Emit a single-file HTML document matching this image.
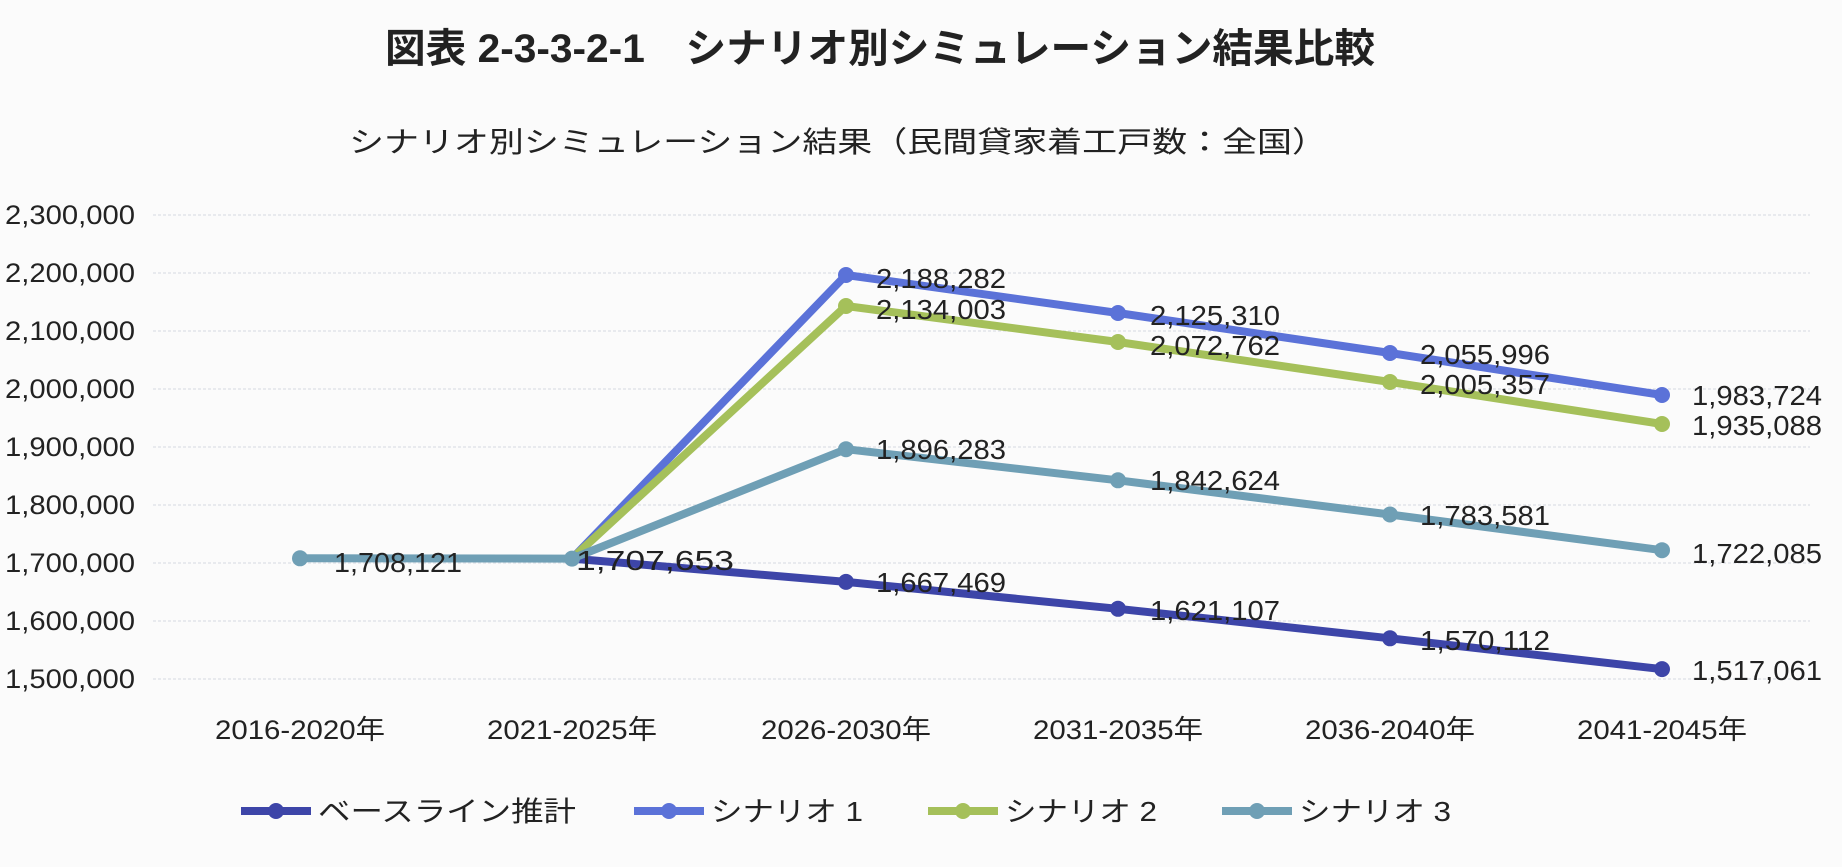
<!DOCTYPE html>
<html><head><meta charset="utf-8"><style>
body{margin:0;background:#fbfbfb}
svg{display:block}
text{font-family:"Liberation Sans","Noto Sans CJK JP",sans-serif;fill:#222}
</style></head><body>
<svg width="1842" height="867" viewBox="0 0 1842 867">
<rect width="1842" height="867" fill="#fbfbfb"/>
<text x="880" y="62" font-size="40" font-weight="bold" text-anchor="middle" fill="#111" textLength="990" lengthAdjust="spacingAndGlyphs">図表 2-3-3-2-1　シナリオ別シミュレーション結果比較</text>
<text x="838" y="152" font-size="29" text-anchor="middle" fill="#444" textLength="978" lengthAdjust="spacingAndGlyphs">シナリオ別シミュレーション結果（民間貸家着工戸数：全国）</text>
<g stroke="#e2e4ea" stroke-width="1.5" stroke-dasharray="3,2">
<line x1="153" x2="1810" y1="215" y2="215"/><line x1="153" x2="1810" y1="273" y2="273"/><line x1="153" x2="1810" y1="331" y2="331"/><line x1="153" x2="1810" y1="389" y2="389"/><line x1="153" x2="1810" y1="447" y2="447"/><line x1="153" x2="1810" y1="505" y2="505"/><line x1="153" x2="1810" y1="563" y2="563"/><line x1="153" x2="1810" y1="621" y2="621"/><line x1="153" x2="1810" y1="679" y2="679"/>
</g>
<g font-size="27" text-anchor="end" fill="#333">
<text x="135" y="224" textLength="130" lengthAdjust="spacingAndGlyphs">2,300,000</text>
<text x="135" y="282" textLength="130" lengthAdjust="spacingAndGlyphs">2,200,000</text>
<text x="135" y="340" textLength="130" lengthAdjust="spacingAndGlyphs">2,100,000</text>
<text x="135" y="398" textLength="130" lengthAdjust="spacingAndGlyphs">2,000,000</text>
<text x="135" y="456" textLength="130" lengthAdjust="spacingAndGlyphs">1,900,000</text>
<text x="135" y="514" textLength="130" lengthAdjust="spacingAndGlyphs">1,800,000</text>
<text x="135" y="572" textLength="130" lengthAdjust="spacingAndGlyphs">1,700,000</text>
<text x="135" y="630" textLength="130" lengthAdjust="spacingAndGlyphs">1,600,000</text>
<text x="135" y="688" textLength="130" lengthAdjust="spacingAndGlyphs">1,500,000</text>
</g>
<g font-size="27" text-anchor="middle" fill="#333">
<text x="300" y="739" textLength="170" lengthAdjust="spacingAndGlyphs">2016-2020年</text>
<text x="572" y="739" textLength="170" lengthAdjust="spacingAndGlyphs">2021-2025年</text>
<text x="846" y="739" textLength="170" lengthAdjust="spacingAndGlyphs">2026-2030年</text>
<text x="1118" y="739" textLength="170" lengthAdjust="spacingAndGlyphs">2031-2035年</text>
<text x="1390" y="739" textLength="170" lengthAdjust="spacingAndGlyphs">2036-2040年</text>
<text x="1662" y="739" textLength="170" lengthAdjust="spacingAndGlyphs">2041-2045年</text>
</g>
<g fill="none" stroke-width="8" stroke-linejoin="round">
<polyline stroke="#3d45a8" points="572,558.6 846,581.9 1118,608.8 1390,638.3 1662,669.1"/>
<polyline stroke="#5b72d8" points="572,558.6 846,275 1118,313 1390,353 1662,395"/>
<polyline stroke="#a5c05a" points="572,558.6 846,306 1118,342 1390,382 1662,424"/>
<polyline stroke="#6f9fb5" points="300,558.3 572,558.6 846,449.2 1118,480.3 1390,514.5 1662,550.2"/>
</g>
<g fill="#3d45a8"><circle cx="846" cy="581.9" r="8"/><circle cx="1118" cy="608.8" r="8"/><circle cx="1390" cy="638.3" r="8"/><circle cx="1662" cy="669.1" r="8"/></g>
<g fill="#5b72d8"><circle cx="846" cy="275" r="8"/><circle cx="1118" cy="313" r="8"/><circle cx="1390" cy="353" r="8"/><circle cx="1662" cy="395" r="8"/></g>
<g fill="#a5c05a"><circle cx="846" cy="306" r="8"/><circle cx="1118" cy="342" r="8"/><circle cx="1390" cy="382" r="8"/><circle cx="1662" cy="424" r="8"/></g>
<g fill="#6f9fb5"><circle cx="300" cy="558.3" r="8"/><circle cx="572" cy="558.6" r="8"/><circle cx="846" cy="449.2" r="8"/><circle cx="1118" cy="480.3" r="8"/><circle cx="1390" cy="514.5" r="8"/><circle cx="1662" cy="550.2" r="8"/></g>
<g font-size="28" fill="#111">
<text x="334" y="572" textLength="128" lengthAdjust="spacingAndGlyphs">1,708,121</text>
<text x="576" y="570" textLength="158" lengthAdjust="spacingAndGlyphs">1,707,653</text>
<text x="876" y="592" textLength="130" lengthAdjust="spacingAndGlyphs">1,667,469</text>
<text x="1150" y="620" textLength="130" lengthAdjust="spacingAndGlyphs">1,621,107</text>
<text x="1420" y="650" textLength="130" lengthAdjust="spacingAndGlyphs">1,570,112</text>
<text x="1692" y="680" textLength="130" lengthAdjust="spacingAndGlyphs">1,517,061</text>
<text x="876" y="288" textLength="130" lengthAdjust="spacingAndGlyphs">2,188,282</text>
<text x="1150" y="325" textLength="130" lengthAdjust="spacingAndGlyphs">2,125,310</text>
<text x="1420" y="364" textLength="130" lengthAdjust="spacingAndGlyphs">2,055,996</text>
<text x="1692" y="405" textLength="130" lengthAdjust="spacingAndGlyphs">1,983,724</text>
<text x="876" y="319" textLength="130" lengthAdjust="spacingAndGlyphs">2,134,003</text>
<text x="1150" y="355" textLength="130" lengthAdjust="spacingAndGlyphs">2,072,762</text>
<text x="1420" y="394" textLength="130" lengthAdjust="spacingAndGlyphs">2,005,357</text>
<text x="1692" y="435" textLength="130" lengthAdjust="spacingAndGlyphs">1,935,088</text>
<text x="876" y="459" textLength="130" lengthAdjust="spacingAndGlyphs">1,896,283</text>
<text x="1150" y="490" textLength="130" lengthAdjust="spacingAndGlyphs">1,842,624</text>
<text x="1420" y="525" textLength="130" lengthAdjust="spacingAndGlyphs">1,783,581</text>
<text x="1692" y="563" textLength="130" lengthAdjust="spacingAndGlyphs">1,722,085</text>
</g>
<g stroke-width="8">
<line x1="241" x2="311" y1="811" y2="811" stroke="#3d45a8"/><circle cx="276" cy="811" r="8" fill="#3d45a8"/>
<line x1="634" x2="704" y1="811" y2="811" stroke="#5b72d8"/><circle cx="669" cy="811" r="8" fill="#5b72d8"/>
<line x1="928" x2="998" y1="811" y2="811" stroke="#a5c05a"/><circle cx="963" cy="811" r="8" fill="#a5c05a"/>
<line x1="1222" x2="1292" y1="811" y2="811" stroke="#6f9fb5"/><circle cx="1257" cy="811" r="8" fill="#6f9fb5"/>
</g>
<g font-size="28" fill="#333">
<text x="318" y="821" textLength="258" lengthAdjust="spacingAndGlyphs">ベースライン推計</text>
<text x="711" y="821" textLength="152" lengthAdjust="spacingAndGlyphs">シナリオ 1</text>
<text x="1005" y="821" textLength="152" lengthAdjust="spacingAndGlyphs">シナリオ 2</text>
<text x="1299" y="821" textLength="152" lengthAdjust="spacingAndGlyphs">シナリオ 3</text>
</g>
</svg>
</body></html>
